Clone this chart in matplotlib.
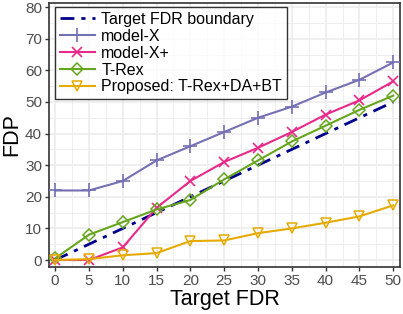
import matplotlib
matplotlib.use("Agg")
import matplotlib.pyplot as plt

plt.rcParams['font.family'] = ['Liberation Sans', 'DejaVu Sans']

target_fdr = [0, 5, 10, 15, 20, 25, 30, 35, 40, 45, 50]
boundary = [0, 5, 10, 15, 20, 25, 30, 35, 40, 45, 50]
model_x = [22, 22, 25, 31.5, 36, 40.5, 45, 48.5, 53, 57, 62.5]
model_x_plus = [0, 0, 4, 16.5, 25, 31, 35.5, 40.5, 46, 50.5, 56.5]
trex = [0.5, 8, 12, 16, 19, 25.5, 31.5, 37.5, 42.5, 47.5, 52]
proposed = [0, 0.3, 1.5, 2.2, 6, 6.2, 8.5, 10, 11.8, 13.8, 17.3]

fig = plt.figure(figsize=(4.03, 3.14), dpi=100)
ax = fig.add_axes([49/403, 47/314, 351/403, 264/314])

ax.plot(target_fdr, boundary, color='#00008B', lw=2, ls=(0, (5, 2.5, 1.5, 2.5)),
        label='Target FDR boundary', zorder=3)
ax.plot(target_fdr, model_x, color='#7570B3', lw=1.5, marker='+', ms=10, mew=1.2,
        label='model-X', zorder=4)
ax.plot(target_fdr, model_x_plus, color='#E7298A', lw=1.5, marker='x', ms=6.5, mew=1.2,
        label='model-X+', zorder=4)
ax.plot(target_fdr, trex, color='#66A61E', lw=1.5, marker='D', ms=6.5, mew=1.1,
        mfc='none', label='T-Rex', zorder=4)
ax.plot(target_fdr, proposed, color='#E6AB02', lw=1.5, marker='v', ms=7.5, mew=1.1,
        mfc='none', label='Proposed: T-Rex+DA+BT', zorder=4)

ax.set_xlim(-0.9, 51)
ax.set_ylim(-2.2, 81.3)
ax.set_xticks(target_fdr)
ax.set_yticks([0, 10, 20, 30, 40, 50, 60, 70, 80])
ax.set_xticks([2.5 + 5 * i for i in range(10)], minor=True)
ax.set_yticks([5 + 10 * i for i in range(8)], minor=True)
ax.grid(True, which='major', color='#EBEBEB', lw=1.1, zorder=0)
ax.grid(True, which='minor', color='#EBEBEB', lw=0.6, zorder=0)
ax.tick_params(which='minor', length=0)
ax.tick_params(which='major', length=3, width=1, color='#333333',
               labelsize=11, labelcolor='#4D4D4D', pad=2)
for s in ax.spines.values():
    s.set_color('#333333')
    s.set_linewidth(1.2)
ax.set_axisbelow(True)

ax.set_xlabel('Target FDR', fontsize=15.5, labelpad=1)
ax.set_ylabel('FDP', fontsize=15.5, labelpad=2)

leg = ax.legend(loc='upper left', bbox_to_anchor=(0.017, 0.985), fontsize=11.5,
                frameon=True, fancybox=False, edgecolor='black',
                handlelength=2.2, handletextpad=0.4, labelspacing=0.12,
                borderpad=0.3, borderaxespad=0)
leg.get_frame().set_linewidth(1.0)

fig.savefig('out.png', dpi=100, facecolor='white')
